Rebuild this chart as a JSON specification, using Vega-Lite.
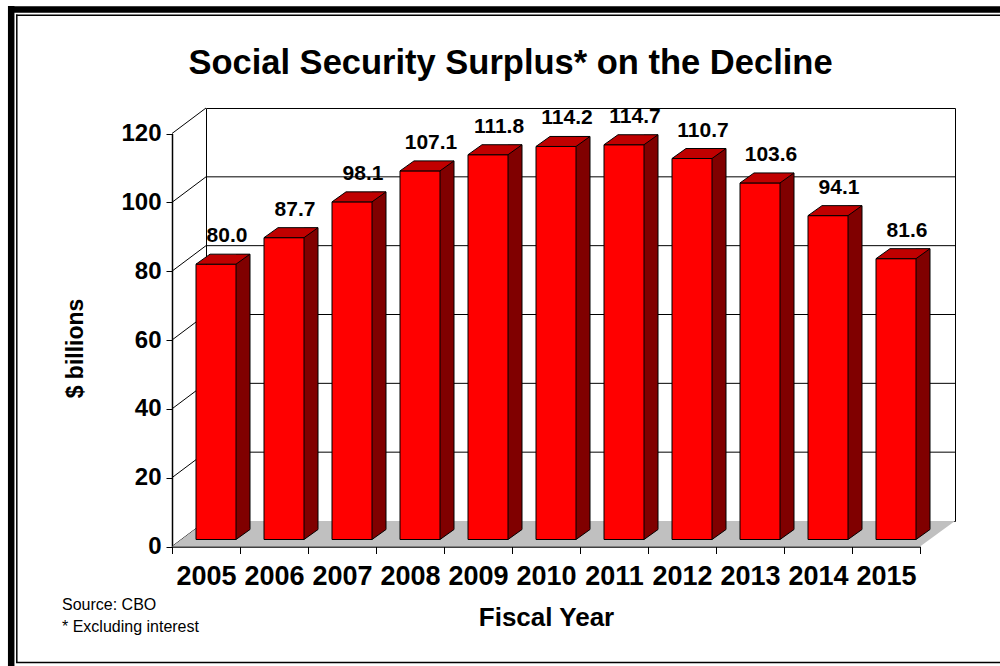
{
  "$schema": "https://vega.github.io/schema/vega-lite/v6.json",
  "width": 749,
  "height": 413,
  "autosize": {"type": "none"},
  "padding": {"left": 206, "top": 108, "right": 45, "bottom": 145},
  "background": "white",
  "title": {
    "text": "Social Security Surplus* on the Decline",
    "font": "Liberation Sans",
    "fontSize": 34.5,
    "fontWeight": "bold",
    "color": "black",
    "anchor": "middle",
    "frame": "group",
    "dx": -70,
    "baseline": "alphabetic",
    "offset": -106
  },
  "config": {
    "view": {"stroke": "black", "strokeWidth": 1},
    "axis": {
      "grid": false,
      "labelFont": "Liberation Sans",
      "labelFontWeight": "bold",
      "labelColor": "black",
      "titleFont": "Liberation Sans",
      "titleFontWeight": "bold",
      "titleColor": "black",
      "domainColor": "black",
      "tickColor": "black",
      "labelOverlap": false
    },
    "text": {"font": "Liberation Sans"}
  },
  "datasets": {
    "main": [
      {"year": "2005", "v": 80.0},
      {"year": "2006", "v": 87.7},
      {"year": "2007", "v": 98.1},
      {"year": "2008", "v": 107.1},
      {"year": "2009", "v": 111.8},
      {"year": "2010", "v": 114.2},
      {"year": "2011", "v": 114.7},
      {"year": "2012", "v": 110.7},
      {"year": "2013", "v": 103.6},
      {"year": "2014", "v": 94.1},
      {"year": "2015", "v": 81.6}
    ],
    "grid": [{"v": 20}, {"v": 40}, {"v": 60}, {"v": 80}, {"v": 100}],
    "wall": [{"v": 0}, {"v": 20}, {"v": 40}, {"v": 60}, {"v": 80}, {"v": 100}, {"v": 120}],
    "one": [{"note": "Source: CBO\n* Excluding interest"}]
  },
  "layer": [
    {
      "data": {"name": "one"},
      "mark": {"type": "rule", "stroke": "black", "strokeWidth": 6.5, "strokeCap": "butt", "xOffset": -198, "x2Offset": 200, "yOffset": -124.1, "y2Offset": -124.1},
      "encoding": {
        "x": {"datum": "2005", "type": "ordinal", "title": "Fiscal Year"},
        "x2": {"datum": "2015"},
        "y": {"datum": 120, "type": "quantitative", "title": "$ billions"},
        "y2": {"datum": 120}
      }
    },
    {
      "data": {"name": "one"},
      "mark": {"type": "rule", "stroke": "black", "strokeWidth": 6.5, "strokeCap": "butt", "xOffset": -194.8, "x2Offset": -194.8, "yOffset": -127.5, "y2Offset": 130},
      "encoding": {
        "x": {"datum": "2005", "type": "ordinal", "title": "Fiscal Year"},
        "x2": {"datum": "2005"},
        "y": {"datum": 120, "type": "quantitative", "title": "$ billions"},
        "y2": {"datum": 0}
      }
    },
    {
      "data": {"name": "one"},
      "mark": {"type": "rule", "stroke": "black", "strokeWidth": 1.5, "strokeCap": "butt", "xOffset": -190, "x2Offset": 200, "yOffset": -118.3, "y2Offset": -118.3},
      "encoding": {
        "x": {"datum": "2005", "type": "ordinal", "title": "Fiscal Year"},
        "x2": {"datum": "2015"},
        "y": {"datum": 120, "type": "quantitative", "title": "$ billions"},
        "y2": {"datum": 120}
      }
    },
    {
      "data": {"name": "one"},
      "mark": {"type": "rule", "stroke": "black", "strokeWidth": 1.5, "strokeCap": "butt", "xOffset": -189.2, "x2Offset": -189.2, "yOffset": -119, "y2Offset": 116},
      "encoding": {
        "x": {"datum": "2005", "type": "ordinal", "title": "Fiscal Year"},
        "x2": {"datum": "2005"},
        "y": {"datum": 120, "type": "quantitative", "title": "$ billions"},
        "y2": {"datum": 0}
      }
    },
    {
      "data": {"name": "one"},
      "mark": {"type": "rule", "stroke": "black", "strokeWidth": 1.5, "strokeCap": "butt", "xOffset": -190, "x2Offset": 200, "yOffset": 116, "y2Offset": 116},
      "encoding": {
        "x": {"datum": "2005", "type": "ordinal", "title": "Fiscal Year"},
        "x2": {"datum": "2015"},
        "y": {"datum": 0, "type": "quantitative", "title": "$ billions"},
        "y2": {"datum": 0}
      }
    },
    {
      "data": {"name": "grid"},
      "mark": {"type": "rule", "stroke": "black", "strokeWidth": 1, "yOffset": -25.5},
      "encoding": {
        "y": {"field": "v", "type": "quantitative", "title": "$ billions"}
      }
    },
    {
      "data": {"name": "wall"},
      "mark": {"type": "rule", "stroke": "black", "strokeWidth": 1, "yOffset": -25.5, "x2Offset": -34},
      "encoding": {
        "x": {"datum": "2005", "type": "ordinal", "title": "Fiscal Year"},
        "x2": {"datum": "2005"},
        "y": {"field": "v", "type": "quantitative", "title": "$ billions"},
        "y2": {"field": "v"}
      }
    },
    {
      "data": {"name": "one"},
      "mark": {"type": "point", "shape": "M -34 0 L 714 0 L 749 -25.5 L 0 -25.5 Z", "size": 4, "filled": true, "fill": "#c0c0c0", "strokeWidth": 0, "opacity": 1},
      "encoding": {
        "x": {"datum": "2005", "type": "ordinal", "title": "Fiscal Year"},
        "y": {"datum": 0, "type": "quantitative", "title": "$ billions"}
      }
    },
    {
      "data": {"name": "main"},
      "mark": {"type": "bar", "width": 14, "xOffset": 37, "yOffset": -17, "y2Offset": -17, "fill": "#800000", "strokeWidth": 0},
      "encoding": {
        "x": {"field": "year", "type": "ordinal", "title": "Fiscal Year"},
        "y": {"field": "v", "type": "quantitative", "title": "$ billions"}
      }
    },
    {
      "data": {"name": "main"},
      "mark": {"type": "rule", "stroke": "black", "strokeWidth": 1, "xOffset": 44, "yOffset": -17, "y2Offset": -17},
      "encoding": {
        "x": {"field": "year", "type": "ordinal", "title": "Fiscal Year"},
        "y": {"field": "v", "type": "quantitative", "title": "$ billions"},
        "y2": {"datum": 0}
      }
    },
    {
      "data": {"name": "main"},
      "mark": {"type": "point", "shape": "M 30 -18 L 44 -18 L 44 -17 L 30 -7 Z", "size": 4, "filled": true, "fill": "#800000", "strokeWidth": 0, "opacity": 1},
      "encoding": {
        "x": {"field": "year", "type": "ordinal", "title": "Fiscal Year"},
        "y": {"datum": 0, "type": "quantitative", "title": "$ billions"}
      }
    },
    {
      "data": {"name": "main"},
      "mark": {"type": "point", "shape": "M 30 -7 L 44 -17", "size": 4, "filled": false, "stroke": "black", "strokeWidth": 1, "opacity": 1},
      "encoding": {
        "x": {"field": "year", "type": "ordinal", "title": "Fiscal Year"},
        "y": {"datum": 0, "type": "quantitative", "title": "$ billions"}
      }
    },
    {
      "data": {"name": "main"},
      "mark": {"type": "bar", "width": 40, "xOffset": 10, "yOffset": -7, "y2Offset": -7, "fill": "#ff0000", "stroke": "black", "strokeWidth": 1},
      "encoding": {
        "x": {
          "field": "year",
          "type": "ordinal",
          "title": "Fiscal Year",
          "scale": {"range": [-34, 714], "paddingInner": 0, "paddingOuter": 0},
          "axis": {
            "orient": "bottom",
            "offset": 25.5,
            "tickBand": "extent",
            "tickSize": 7,
            "labelPadding": 10,
            "labelFontSize": 27,
            "labelAngle": 0,
            "labelAlign": "center",
            "labelBaseline": "top",
            "domainWidth": 1.5,
            "titleFontSize": 26,
            "titlePadding": 15
          }
        },
        "y": {
          "field": "v",
          "type": "quantitative",
          "title": "$ billions",
          "scale": {"domain": [0, 120], "range": [438.5, 25.5], "nice": false},
          "axis": {
            "orient": "left",
            "offset": 34,
            "values": [0, 20, 40, 60, 80, 100, 120],
            "tickSize": 6,
            "labelPadding": 5,
            "labelFontSize": 24,
            "domainWidth": 1.5,
            "titleFontSize": 23,
            "titlePadding": 33,
            "titleY": 240
          }
        }
      }
    },
    {
      "data": {"name": "main"},
      "mark": {"type": "point", "shape": "M -10 -7 L 30 -7 L 44 -17 L 4 -17 Z", "size": 4, "filled": true, "fill": "#c00000", "stroke": "black", "strokeWidth": 1, "opacity": 1},
      "encoding": {
        "x": {"field": "year", "type": "ordinal", "title": "Fiscal Year"},
        "y": {"field": "v", "type": "quantitative", "title": "$ billions"}
      }
    },
    {
      "data": {"name": "main"},
      "mark": {"type": "text", "fontSize": 21, "fontWeight": "bold", "color": "black", "align": "center", "baseline": "alphabetic", "xOffset": 21, "yOffset": -29},
      "encoding": {
        "x": {"field": "year", "type": "ordinal", "title": "Fiscal Year"},
        "y": {"field": "v", "type": "quantitative", "title": "$ billions"},
        "text": {"field": "v", "type": "quantitative", "format": ".1f"}
      }
    },
    {
      "data": {"name": "one"},
      "mark": {"type": "text", "fontSize": 16, "color": "black", "align": "left", "baseline": "alphabetic", "lineBreak": "\n", "lineHeight": 22, "xOffset": -144, "yOffset": 63},
      "encoding": {
        "x": {"datum": "2005", "type": "ordinal", "title": "Fiscal Year"},
        "y": {"datum": 0, "type": "quantitative", "title": "$ billions"},
        "text": {"field": "note"}
      }
    }
  ]
}
